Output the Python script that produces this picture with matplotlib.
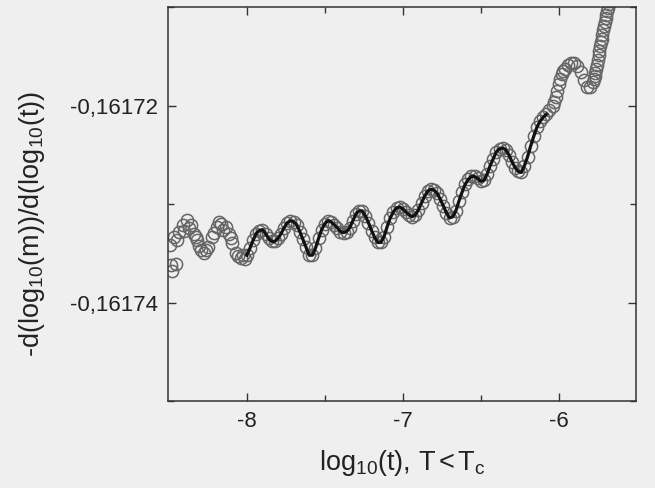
import matplotlib
matplotlib.use("Agg")
import matplotlib.pyplot as plt
from matplotlib.ticker import FixedLocator, FuncFormatter
import numpy as np

# ---- data ----
# noisy circles before the fitted range
x_noise = [-8.492, -8.487, -8.481, -8.466, -8.455, -8.449, -8.434, -8.412, -8.404,
           -8.380, -8.372, -8.359, -8.338, -8.327, -8.316, -8.308, -8.295, -8.274,
           -8.263, -8.248, -8.220, -8.212, -8.192, -8.179, -8.167, -8.154, -8.135,
           -8.113, -8.103, -8.092, -8.071, -8.058, -8.038, -8.026, -8.013]
y_noise = [-0.1617342, -0.1617362, -0.1617368, -0.1617333, -0.1617361, -0.1617337,
           -0.1617328, -0.1617321, -0.1617327, -0.1617316, -0.1617324, -0.1617321,
           -0.1617330, -0.1617333, -0.1617337, -0.1617343, -0.1617347, -0.1617350,
           -0.1617347, -0.1617344, -0.1617333, -0.1617329, -0.1617323, -0.1617318,
           -0.1617320, -0.1617326, -0.1617323, -0.1617330, -0.1617335, -0.1617340,
           -0.1617350, -0.1617353, -0.1617355, -0.1617352, -0.1617356]

# circles + fitted line in the oscillating range
x_fit = [-8.00, -7.98, -7.96, -7.94, -7.92, -7.90, -7.88, -7.86, -7.84, -7.82,
         -7.80, -7.78, -7.76, -7.74, -7.72, -7.70, -7.68, -7.66, -7.64, -7.62,
         -7.60, -7.58, -7.56, -7.54, -7.52, -7.50, -7.48, -7.46, -7.44, -7.42,
         -7.40, -7.38, -7.36, -7.34, -7.32, -7.30, -7.28, -7.26, -7.24, -7.22,
         -7.20, -7.18, -7.16, -7.14, -7.12, -7.10, -7.08, -7.06, -7.04, -7.02,
         -7.00, -6.98, -6.96, -6.94, -6.92, -6.90, -6.88, -6.86, -6.84, -6.82,
         -6.80, -6.78, -6.76, -6.74, -6.72, -6.70, -6.68, -6.66, -6.64, -6.62,
         -6.60, -6.58, -6.56, -6.54, -6.52, -6.50, -6.48, -6.46, -6.44, -6.42,
         -6.40, -6.38, -6.36, -6.34, -6.32, -6.30, -6.28, -6.26, -6.24, -6.22,
         -6.20, -6.18, -6.16, -6.14, -6.12, -6.10, -6.08]
y_fit = [-0.1617352, -0.1617345, -0.1617337, -0.1617330, -0.1617327, -0.1617326,
         -0.1617330, -0.1617335, -0.1617338, -0.1617338, -0.1617335, -0.1617330,
         -0.1617324, -0.1617319, -0.1617317, -0.1617318, -0.1617321, -0.1617328,
         -0.1617336, -0.1617344, -0.1617352, -0.1617352, -0.1617345, -0.1617335,
         -0.1617326, -0.1617320, -0.1617317, -0.1617318, -0.1617321, -0.1617324,
         -0.1617328, -0.1617329, -0.1617328, -0.1617324, -0.1617317, -0.1617310,
         -0.1617307, -0.1617307, -0.1617312, -0.1617319, -0.1617327, -0.1617334,
         -0.1617339, -0.1617339, -0.1617333, -0.1617323, -0.1617314, -0.1617308,
         -0.1617304, -0.1617303, -0.1617305, -0.1617308, -0.1617311, -0.1617313,
         -0.1617311, -0.1617306, -0.1617299, -0.1617292, -0.1617287, -0.1617285,
         -0.1617286, -0.1617289, -0.1617295, -0.1617302, -0.1617309, -0.1617314,
         -0.1617313, -0.1617307, -0.1617297, -0.1617288, -0.1617280, -0.1617275,
         -0.1617272, -0.1617272, -0.1617274, -0.1617277, -0.1617276, -0.1617270,
         -0.1617261, -0.1617254, -0.1617247, -0.1617244, -0.1617243, -0.1617245,
         -0.1617250, -0.1617257, -0.1617263, -0.1617267, -0.1617268, -0.1617261,
         -0.1617252, -0.1617241, -0.1617231, -0.1617222, -0.1617216, -0.1617212,
         -0.1617209]

# circles after the fitted range
x_tail = [-6.06, -6.04, -6.03, -6.02, -6.01, -6.00, -5.99, -5.98, -5.97, -5.96,
          -5.94, -5.92, -5.90, -5.88, -5.86, -5.84, -5.82, -5.80, -5.78, -5.775,
          -5.770, -5.765, -5.760, -5.755, -5.750, -5.745, -5.740, -5.735, -5.730,
          -5.725, -5.720, -5.715, -5.710, -5.705, -5.700, -5.695, -5.690, -5.685,
          -5.680, -5.675]
y_tail = [-0.1617205, -0.1617200, -0.1617196, -0.1617191, -0.1617185, -0.1617178,
          -0.1617173, -0.1617168, -0.1617165, -0.1617163, -0.1617159, -0.1617157,
          -0.1617157, -0.1617160, -0.1617166, -0.1617174, -0.1617181, -0.1617181,
          -0.1617176, -0.1617173, -0.1617170, -0.1617167, -0.1617163, -0.1617159,
          -0.1617154, -0.1617149, -0.1617145, -0.1617140, -0.1617136, -0.1617132,
          -0.1617128, -0.1617123, -0.1617119, -0.1617115, -0.1617111, -0.1617108,
          -0.1617104, -0.1617101, -0.1617097, -0.1617094]

x_major = [-8, -7, -6]
x_minor = [-7.5, -6.5]
y_major = [-0.16174, -0.16172]
y_minor = [-0.16175, -0.16173, -0.16171]

# ---- figure ----
plt.rcParams['font.family'] = ['Liberation Sans', 'DejaVu Sans']
plt.rcParams['mathtext.fontset'] = 'custom'
plt.rcParams['mathtext.rm'] = 'Liberation Sans'
plt.rcParams['mathtext.it'] = 'Liberation Sans'
plt.rcParams['axes.unicode_minus'] = False

bg = '#efefef'
fig = plt.figure(figsize=(6.55, 4.88), dpi=100, facecolor=bg)
ax = fig.add_axes([168/655, 1-401/488, (636-168)/655, (401-7)/488], facecolor=bg)

circ_x = x_noise + x_fit + x_tail
circ_y = y_noise + y_fit + y_tail
ax.plot(circ_x, circ_y, linestyle='none', marker='o', markersize=8.8,
        markerfacecolor='none', markeredgecolor='#666666', markeredgewidth=1.1,
        zorder=2)
ax.plot(x_fit, y_fit, color='#111111', linewidth=2.3, zorder=3)

ax.set_xlim(-8.505, -5.505)
ax.set_ylim(-0.16175, -0.16171)

ax.xaxis.set_major_locator(FixedLocator(x_major))
ax.xaxis.set_minor_locator(FixedLocator(x_minor))
ax.yaxis.set_major_locator(FixedLocator(y_major))
ax.yaxis.set_minor_locator(FixedLocator(y_minor))
ax.xaxis.set_major_formatter(FuncFormatter(lambda v, p: f"{v:.0f}"))
ax.yaxis.set_major_formatter(FuncFormatter(lambda v, p: f"{v:.5f}".replace('.', ',')))

ax.tick_params(which='both', direction='in', top=True, right=True,
               color='#333333', width=1.0)
ax.tick_params(which='major', length=6, labelsize=16, labelcolor='#222222')
ax.tick_params(which='minor', length=4)
ax.tick_params(axis='x', which='major', pad=7)
ax.tick_params(axis='y', which='major', pad=7)
for s in ax.spines.values():
    s.set_color('#333333')
    s.set_linewidth(1.1)

ax.set_xlabel(r'log$_\mathregular{10}$(t), T$\,$<$\,$T$_\mathregular{c}$', fontsize=19.5,
              color='#222222', labelpad=12)
ax.set_ylabel(r'-d(log$_\mathregular{10}$(m))/d(log$_\mathregular{10}$(t))',
              fontsize=19.5, color='#222222')
ax.yaxis.set_label_coords(-0.258, 0.449)

fig.savefig('out.png', dpi=100, facecolor=bg)
